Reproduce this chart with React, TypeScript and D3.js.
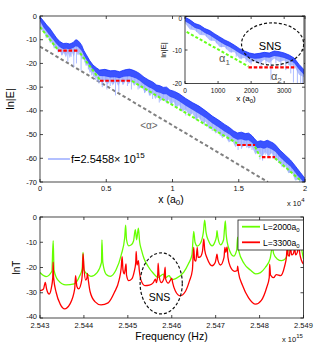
import React from "react";
import * as d3 from "d3";

const FONT = "'Liberation Sans', Arial, Helvetica, sans-serif";

// ---- top panel: |E| along the chain ----
const mainXTicks = [0, 5000, 10000, 15000, 20000];
const mainXTickLabels = ["0", "0.5", "1", "1.5", "2"];
const mainYTicks = [0, -10, -20, -30, -40, -50, -60, -70];

// [x, upper edge, lower edge] of the dense blue signal
const mainBand = [
  [0, -0.3, -2.2], [250, -2.0, -4.6], [500, -3.8, -6.5], [750, -5.3, -8.3], [1000, -7.3, -10.0],
  [1250, -9.3, -11.8], [1500, -10.8, -13.2], [1750, -11.6, -13.9], [2000, -11.5, -13.8],
  [2250, -11.8, -14.0], [2500, -11.2, -13.5], [2700, -10.0, -12.8], [2850, -10.3, -13.0],
  [3000, -11.2, -13.8], [3150, -12.4, -14.8], [3300, -14.5, -16.6], [3500, -16.4, -18.5],
  [3750, -18.8, -20.8], [4000, -20.7, -22.6], [4250, -21.8, -24.0], [4500, -22.8, -25.3],
  [4900, -22.5, -25.4], [5300, -23.1, -25.9], [5650, -23.0, -25.8], [6000, -23.5, -26.2],
  [6300, -22.9, -25.6], [6500, -22.6, -25.5], [6750, -22.4, -25.4], [7000, -22.8, -25.8],
  [7250, -23.4, -26.4], [7500, -24.2, -27.2], [7850, -25.8, -28.8], [8200, -27.0, -30.0],
  [8500, -27.8, -30.8], [8800, -29.1, -32.0], [9050, -29.4, -32.4], [9300, -30.1, -33.0],
  [9550, -30.0, -33.0], [9800, -31.2, -34.0], [10150, -31.8, -34.8], [10500, -32.8, -36.0],
  [11000, -34.8, -37.8], [11500, -36.5, -39.5], [12000, -38.0, -41.2], [12500, -40.0, -43.0],
  [13000, -42.2, -45.2], [13500, -44.0, -47.0], [13900, -45.6, -48.6], [14300, -47.0, -50.0],
  [14600, -48.4, -51.3], [14900, -49.3, -52.2], [15200, -49.0, -52.0], [15500, -49.6, -52.5],
  [15750, -49.4, -52.4], [16000, -50.5, -53.5], [16200, -51.8, -54.6], [16400, -53.0, -55.8],
  [16650, -52.6, -55.6], [16900, -53.0, -56.0], [17150, -52.4, -55.5], [17400, -53.0, -56.0],
  [17600, -53.6, -56.6], [17800, -54.5, -57.5], [18100, -56.5, -59.5], [18500, -58.6, -61.6],
  [18900, -60.7, -63.5], [19150, -62.4, -65.2], [19400, -64.2, -67.0], [19650, -66.0, -68.6],
  [19900, -67.8, -70.0], [20000, -68.5, -70.0],
];

// lower edge of the lighter, fuzzy part under the dense signal
const mainHaze = [
  [0, -3.5], [150, -6.5], [300, -6.5], [450, -9.5], [600, -8.8], [750, -11.5], [900, -10.8],
  [1050, -13.8], [1200, -13.0], [1350, -15.5], [1500, -14.8], [1650, -16.8], [1800, -15.5],
  [1950, -17.5], [2100, -15.3], [2250, -17.8], [2400, -15.2], [2550, -17.2], [2700, -14.3],
  [2850, -16.5], [3000, -15.3], [3150, -18.3], [3300, -18.0], [3450, -21.0], [3600, -20.8],
  [3750, -24.0], [3900, -23.3], [4050, -26.0], [4200, -25.2], [4350, -27.8], [4500, -26.8],
  [4700, -28.8], [4900, -27.0], [5100, -29.0], [5300, -27.4], [5500, -29.3], [5700, -27.3],
  [5900, -29.5], [6100, -27.5], [6300, -29.0], [6500, -27.0], [6700, -28.8], [6900, -27.2],
  [7100, -29.5], [7300, -28.1], [7500, -30.7], [7700, -29.6], [7900, -32.5], [8100, -31.2],
  [8300, -33.8], [8500, -32.3], [8700, -35.0], [8900, -33.7], [9100, -36.0], [9300, -34.5],
  [9500, -36.5], [9700, -35.2], [9900, -37.7], [10100, -36.2], [10300, -38.8], [10500, -37.5],
  [10750, -40.4], [11000, -39.3], [11250, -42.2], [11500, -41.0], [11750, -43.8], [12000, -42.7],
  [12250, -45.6], [12500, -44.5], [12750, -47.6], [13000, -46.7], [13250, -49.6], [13500, -48.5],
  [13750, -51.5], [14000, -50.4], [14250, -53.3], [14500, -52.4], [14750, -55.3], [15000, -53.6],
  [15250, -55.6], [15500, -54.0], [15750, -55.9], [16000, -55.0], [16250, -58.4], [16500, -57.1],
  [16750, -59.3], [17000, -57.3], [17250, -59.2], [17500, -57.8], [17750, -60.8], [18000, -60.3],
  [18250, -63.8], [18500, -63.1], [18750, -66.3], [19000, -65.7], [19250, -69.4], [19500, -69.1],
  [19750, -70], [20000, -70],
];

// [x, lowest value] of the deep downward dips
const mainSpikes = [
  [300, -5.5], [650, -8.8], [900, -11.4], [1150, -13.6], [1400, -15.2], [1650, -16.5], [1900, -15.8],
  [2100, -19.3], [2350, -17.2], [2550, -21.5], [2750, -20.0], [2950, -16.5], [3100, -23.0],
  [3400, -19.5], [3650, -22.5], [3900, -25.0], [4200, -27.0], [4450, -28.5], [4700, -30.0],
  [4950, -28.0], [5050, -31.0], [5300, -29.5], [5550, -28.5], [5700, -33.5], [5950, -32.0],
  [6250, -29.0], [6600, -29.5], [6900, -31.0], [7150, -28.5], [7400, -31.0], [7700, -30.5],
  [7900, -32.5], [8250, -33.5], [8500, -35.0], [8750, -34.0], [9000, -36.5], [9300, -35.5],
  [9600, -37.0], [9900, -37.5], [10200, -38.5], [10600, -40.0], [11000, -42.0], [11400, -41.5],
  [11800, -44.0], [12100, -43.5], [12400, -46.0], [12750, -45.5], [13000, -48.5], [13300, -48.0],
  [13600, -50.5], [13900, -50.0], [14200, -52.5], [14500, -53.0], [14950, -56.5], [15200, -56.0],
  [15400, -54.5], [15600, -55.5], [15850, -54.5], [16000, -56.5], [16300, -57.5], [16600, -60.5],
  [16800, -61.0], [17000, -58.5], [17200, -59.0], [17400, -58.0], [17600, -60.0], [17850, -59.5],
  [18000, -62.0], [18200, -61.5], [18400, -64.0], [18600, -63.0], [18800, -66.0], [19000, -65.5],
  [19200, -68.0], [19400, -68.5], [19600, -70.0], [19800, -70.0],
];

// green slopes (alpha_1) and red plateaus (alpha_2)
const alphaSegments = [
  [[0, -4.6], [1360, -14.3]],
  [[3020, -15.6], [4530, -27.0]],
  [[6940, -27.4], [14870, -53.7]],
  [[16230, -55.1], [16600, -59.3]],
  [[17740, -60.0], [19620, -69.1]],
];
const plateaus = [
  [1360, 2870, -14.6],
  [4530, 6940, -27.3],
  [14870, 16230, -54.4],
  [16750, 17740, -59.5],
];
const averageSlope = [[0, -12.9], [17200, -70]];

// ---- inset ----
const insetXTicks = [0, 1000, 2000, 3000];
const insetYTicks = [0, -10, -20];
const insetBand = [
  [0, -0.2, -1.4], [150, -1.0, -2.3], [300, -2.1, -3.4], [450, -2.6, -3.9], [600, -3.6, -4.9],
  [750, -4.2, -5.6], [900, -5.2, -6.6], [1050, -6.1, -7.5], [1200, -7.0, -8.4], [1350, -7.7, -9.1],
  [1500, -8.6, -10.0], [1650, -9.6, -11.0], [1800, -10.3, -11.7], [1950, -10.9, -12.3],
  [2100, -11.2, -12.6], [2250, -11.0, -12.5], [2400, -10.7, -12.2], [2550, -10.9, -12.3],
  [2700, -10.3, -11.8], [2850, -10.5, -12.0], [3000, -10.9, -12.4], [3150, -11.5, -13.0],
  [3300, -12.4, -13.9], [3450, -14.3, -15.8], [3600, -15.9, -17.4],
];
const insetHaze = [
  [0, -2.0], [150, -3.9], [300, -4.1], [450, -5.5], [600, -5.6], [750, -7.2], [900, -7.3],
  [1050, -9.1], [1200, -9.1], [1350, -10.7], [1500, -10.7], [1650, -12.6], [1800, -12.4],
  [1950, -13.9], [2100, -13.3], [2250, -14.1], [2400, -12.9], [2550, -13.9], [2700, -12.5],
  [2850, -13.6], [3000, -13.1], [3150, -14.6], [3300, -14.6], [3450, -17.4], [3600, -18.1],
];
const insetSpikes = [
  [200, -3.6], [350, -4.6], [500, -5.3], [650, -6.0], [800, -7.2], [950, -8.0], [1100, -9.2],
  [1250, -9.8], [1400, -10.8], [1550, -12.0], [1700, -12.8], [1850, -13.6], [2000, -14.3],
  [2150, -13.8], [2300, -15.5], [2450, -14.2], [2600, -19.0], [2750, -14.0], [2900, -15.0],
  [3050, -16.0], [3200, -17.0], [3280, -19.7], [3400, -20], [3500, -20], [3560, -20],
];
const insetAlpha = [[50, -4.6], [1920, -14.9]];
const insetPlateau = [1920, 3350, -15.2];

// ---- bottom panel: ln T vs frequency (x 1e15 Hz) ----
const freqTicks = [2.543, 2.544, 2.545, 2.546, 2.547, 2.548, 2.549];
const lnTTicks = [0, -10, -20, -30, -40];

const lnT2000 = [
  [2.543, -22.0], [2.54314, -23.6], [2.54327, -21.5], [2.5433, -9.4], [2.54332, -21.0], [2.54341, -25.0],
  [2.54359, -26.9], [2.54378, -26.5], [2.5439, -23.5], [2.54396, -20.5], [2.54398, -14.0], [2.544, -21.0],
  [2.5441, -23.0], [2.54416, -23.5], [2.5443, -22.0], [2.5444, -18.0], [2.54441, -9.1], [2.54443, -18.0],
  [2.54451, -22.8], [2.5446, -23.5], [2.54473, -21.0], [2.54485, -15.0], [2.54493, -8.0], [2.54495, -3.2],
  [2.54497, -9.0], [2.54502, -11.4], [2.54508, -11.0], [2.54513, -9.5], [2.54517, -5.0], [2.5452, -9.0],
  [2.54524, -4.4], [2.54527, -10.0], [2.54531, -13.0], [2.54537, -16.5], [2.54546, -19.5], [2.54558, -22.3],
  [2.54569, -23.9], [2.54581, -22.6], [2.54585, -24.2], [2.54594, -23.2], [2.546, -24.8], [2.5461, -24.3],
  [2.54627, -21.9], [2.54638, -18.5], [2.54646, -15.0], [2.5465, -5.7], [2.54653, -10.0], [2.54658, -11.5],
  [2.54665, -10.5], [2.54672, -6.0], [2.54675, -1.2], [2.54678, -6.0], [2.54684, -9.5], [2.54692, -11.4],
  [2.54698, -10.0], [2.54702, -7.5], [2.54703, -5.4], [2.54705, -8.0], [2.54711, -11.0], [2.54718, -9.0],
  [2.5472, -5.0], [2.54722, -1.5], [2.54724, -7.0], [2.5473, -12.5], [2.54741, -15.5], [2.54748, -13.0],
  [2.5475, -8.0], [2.54752, -13.0], [2.54765, -18.5], [2.54779, -21.0], [2.54791, -22.5], [2.54802, -22.0],
  [2.54813, -20.0], [2.54824, -16.5], [2.54829, -12.0], [2.54832, -14.5], [2.5484, -16.6], [2.5485, -17.3],
  [2.54859, -16.5], [2.54866, -12.0], [2.54869, -8.0], [2.54873, -12.0], [2.5488, -13.0], [2.54884, -9.0],
  [2.54888, -12.5], [2.54893, -10.0], [2.54897, -14.0], [2.549, -16.6],
];

const lnT3300 = [
  [2.543, -29.2], [2.54308, -28.5], [2.54312, -25.9], [2.54315, -28.5], [2.54321, -30.5], [2.54326, -28.0],
  [2.54329, -24.0], [2.5433, -17.9], [2.54331, -24.0], [2.54337, -30.0], [2.54346, -34.5], [2.54356, -36.4],
  [2.54368, -34.5], [2.54379, -28.5], [2.54381, -23.2], [2.54384, -27.5], [2.54388, -28.5], [2.54395, -25.0],
  [2.54397, -20.0], [2.54398, -14.5], [2.544, -20.0], [2.54404, -25.0], [2.54407, -24.0], [2.54408, -22.3],
  [2.5441, -25.0], [2.54414, -29.5], [2.54425, -33.5], [2.54439, -34.8], [2.54455, -34.0], [2.54469, -30.0],
  [2.5448, -25.0], [2.54485, -20.0], [2.54487, -15.7], [2.54489, -21.0], [2.54492, -22.5], [2.54496, -18.6],
  [2.54497, -23.0], [2.54502, -25.2], [2.54509, -24.5], [2.54514, -22.0], [2.54518, -18.0], [2.54519, -13.6],
  [2.54521, -19.0], [2.54524, -17.3], [2.54526, -21.0], [2.5453, -25.0], [2.54539, -27.2], [2.54549, -27.0],
  [2.54558, -26.0], [2.54563, -24.6], [2.54565, -26.0], [2.54568, -23.0], [2.54569, -18.3], [2.54571, -23.0],
  [2.54576, -26.0], [2.54582, -24.5], [2.54585, -19.9], [2.54586, -24.5], [2.54592, -26.2], [2.54597, -25.0],
  [2.546, -24.2], [2.54602, -26.0], [2.54608, -29.2], [2.54619, -31.2], [2.54631, -29.5], [2.5464, -25.5],
  [2.54647, -21.0], [2.5465, -12.0], [2.54652, -17.0], [2.54655, -17.5], [2.54658, -12.0], [2.5466, -16.0],
  [2.54665, -15.8], [2.5467, -13.5], [2.54673, -8.7], [2.54675, -13.0], [2.54681, -16.5], [2.54692, -19.3],
  [2.54699, -18.0], [2.54702, -15.5], [2.54703, -14.7], [2.54705, -17.0], [2.54711, -19.0], [2.54719, -16.0],
  [2.54721, -12.0], [2.54723, -14.0], [2.54726, -11.8], [2.54728, -16.0], [2.54733, -19.5], [2.54743, -21.5],
  [2.54749, -21.2], [2.5475, -19.5], [2.54752, -22.0], [2.54761, -27.0], [2.54775, -32.0], [2.54791, -34.5],
  [2.54804, -33.0], [2.54816, -28.0], [2.54822, -24.0], [2.54823, -18.7], [2.54825, -23.0], [2.54832, -24.0],
  [2.54838, -22.8], [2.54848, -23.2], [2.54857, -19.5], [2.54861, -16.0], [2.54863, -12.0], [2.54865, -15.0],
  [2.54868, -15.5], [2.5487, -11.5], [2.54873, -15.0], [2.54877, -14.5], [2.5488, -12.5], [2.54882, -15.0],
  [2.54886, -14.0], [2.54889, -11.5], [2.54892, -15.0], [2.54895, -17.0], [2.549, -18.6],
];

const legendLabels = ["L=2000a", "L=3300a"];

// scales
const xM = d3.scaleLinear().domain([0, 20000]).range([40, 305]);
const yM = d3.scaleLinear().domain([-70, 0]).range([182, 16]);
const xI = d3.scaleLinear().domain([0, 3600]).range([185, 304]);
const yI = d3.scaleLinear().domain([-20, 0]).range([83.5, 16.5]);
const xB = d3.scaleLinear().domain([2.543, 2.549]).range([40, 303.5]);
const yB = d3.scaleLinear().domain([-40, 0]).range([318, 217]);

const BLUE = "#2a44ff";
const LIGHTBLUE = "#97a9ff";
const LIME = "#66ff1a";
const RED = "#ff0000";

function Frame({ xs, ys, xt, yt, tick = 3 }: any) {
  const [x0, x1] = xs.range();
  const [y0, y1] = ys.range();
  return (
    <g stroke="#1a1a1a" strokeWidth={0.8} fill="none">
      {xt.map((t: number) => (
        <g key={"x" + t}>
          <line x1={xs(t)} x2={xs(t)} y1={y0} y2={y0 - tick} />
          <line x1={xs(t)} x2={xs(t)} y1={y1} y2={y1 + tick} />
        </g>
      ))}
      {yt.map((t: number) => (
        <g key={"y" + t}>
          <line x1={x0} x2={x0 + tick} y1={ys(t)} y2={ys(t)} />
          <line x1={x1} x2={x1 - tick} y1={ys(t)} y2={ys(t)} />
        </g>
      ))}
      <rect x={x0} y={y1} width={x1 - x0} height={y0 - y1} />
    </g>
  );
}

function Signal({ band, haze, spikes, xs, ys, clip }: any) {
  const area = d3
    .area<number[]>()
    .x((d) => xs(d[0]))
    .y0((d) => ys(d[2]))
    .y1((d) => ys(d[1]));
  const lower = d3.scaleLinear().domain(band.map((d: number[]) => d[0])).range(band.map((d: number[]) => d[2]));
  const hazeArea = d3
    .area<number[]>()
    .x((d) => xs(d[0]))
    .y0((d) => ys(d[1]))
    .y1((d) => ys(lower(d[0]) + 0.3));
  const top = d3.line<number[]>().x((d) => xs(d[0])).y((d) => ys(d[1]));
  return (
    <g clipPath={`url(#${clip})`}>
      <path d={hazeArea(haze) || ""} fill={LIGHTBLUE} opacity={0.75} />
      {spikes.map((s: number[], i: number) => (
        <line key={i} x1={xs(s[0])} x2={xs(s[0])} y1={ys(lower(s[0]) + 0.5)} y2={ys(s[1])}
          stroke={LIGHTBLUE} strokeWidth={0.8} />
      ))}
      <path d={area(band) || ""} fill={BLUE} opacity={0.92} />
      <path d={top(band) || ""} fill="none" stroke="#1430ff" strokeWidth={0.8} />
    </g>
  );
}

export default function App() {
  const seg = d3.line<number[]>().x((d) => xM(d[0])).y((d) => yM(d[1]));
  const segI = d3.line<number[]>().x((d) => xI(d[0])).y((d) => yI(d[1]));
  const curve = d3.line<number[]>().x((d) => xB(d[0])).y((d) => yB(d[1])).curve(d3.curveMonotoneX);

  const [mx0, mx1] = xM.range();
  const [my0, my1] = yM.range();
  const [ix0, ix1] = xI.range();
  const [iy0, iy1] = yI.range();
  const [bx0, bx1] = xB.range();
  const [by0, by1] = yB.range();

  return (
    <svg width={332} height={355} style={{ position: "absolute", left: 0, top: 0, background: "#fff" }}
      fontFamily={FONT}>
      <defs>
        <clipPath id="clipM"><rect x={mx0} y={my1} width={mx1 - mx0} height={my0 - my1} /></clipPath>
        <clipPath id="clipI"><rect x={ix0} y={iy1} width={ix1 - ix0} height={iy0 - iy1} /></clipPath>
        <clipPath id="clipB"><rect x={bx0} y={by1} width={bx1 - bx0} height={by0 - by1} /></clipPath>
      </defs>
      <rect width={332} height={355} fill="#fff" />

      {/* ===== top panel ===== */}
      <g clipPath="url(#clipM)">
        <path d={seg(averageSlope) || ""} stroke="#808080" strokeWidth={2} strokeDasharray="3.5,2.5" fill="none" />
      </g>
      <Signal band={mainBand} haze={mainHaze} spikes={mainSpikes} xs={xM} ys={yM} clip="clipM" />
      <g clipPath="url(#clipM)">
        {alphaSegments.map((s, i) => (
          <path key={i} d={seg(s) || ""} stroke={LIME} strokeWidth={2} strokeDasharray="3,2" fill="none" />
        ))}
        {plateaus.map((p, i) => (
          <line key={i} x1={xM(p[0])} x2={xM(p[1])} y1={yM(p[2])} y2={yM(p[2])}
            stroke={RED} strokeWidth={2.2} strokeDasharray="3.5,1.8" />
        ))}
      </g>
      <Frame xs={xM} ys={yM} xt={mainXTicks} yt={mainYTicks} />
      <g fontSize={7.5} fill="#111">
        {mainXTicks.map((t, i) => (
          <text key={t} x={xM(t)} y={191} textAnchor="middle">{mainXTickLabels[i]}</text>
        ))}
        {mainYTicks.map((t) => (
          <text key={t} x={37} y={yM(t)} textAnchor="end" dominantBaseline="central">{t}</text>
        ))}
        <text x={287} y={205.5}>x 10<tspan dy={-4} fontSize={6}>4</tspan></text>
      </g>
      <text transform={`translate(14,${(my0 + my1) / 2}) rotate(-90)`} textAnchor="middle" fontSize={11}>ln|E|</text>
      <text x={171} y={202.5} textAnchor="middle" fontSize={10.5}>
        x (a<tspan dy={2.5} fontSize={8}>0</tspan><tspan dy={-2.5}>)</tspan>
      </text>
      <text x={xM(8226)} y={yM(-46)} textAnchor="middle" dominantBaseline="central" fontSize={10} fill="#666">&lt;α&gt;</text>
      <line x1={xM(600)} x2={xM(2260)} y1={yM(-60.3)} y2={yM(-60.3)} stroke="#b3c0ff" strokeWidth={2} />
      <text x={xM(2340)} y={yM(-60.3) + 4} fontSize={11}>
        f=2.5458× 10<tspan dy={-5} fontSize={8}>15</tspan>
      </text>

      {/* ===== inset ===== */}
      <rect x={ix0} y={iy1} width={ix1 - ix0} height={iy0 - iy1} fill="#fff" />
      <Signal band={insetBand} haze={insetHaze} spikes={insetSpikes} xs={xI} ys={yI} clip="clipI" />
      <g clipPath="url(#clipI)">
        <path d={segI(insetAlpha) || ""} stroke={LIME} strokeWidth={2} strokeDasharray="3,2" fill="none" />
        <line x1={xI(insetPlateau[0])} x2={xI(insetPlateau[1])} y1={yI(insetPlateau[2])} y2={yI(insetPlateau[2])}
          stroke={RED} strokeWidth={2.2} strokeDasharray="3.5,1.8" />
        <ellipse cx={xI(2650)} cy={yI(-8.2)} rx={xI(940) - xI(0)} ry={yI(0) - yI(6.3)}
          fill="none" stroke="#111" strokeWidth={1.2} strokeDasharray="3,2" />
      </g>
      <text x={xI(2576)} y={yI(-8.8)} textAnchor="middle" dominantBaseline="central" fontSize={11}>SNS</text>
      <text x={xI(1030)} y={yI(-13.6)} fontSize={11} fill="#555">α<tspan dy={3} fontSize={8}>1</tspan></text>
      <text x={xI(2600)} y={yI(-18.95)} fontSize={11} fill="#555">α<tspan dy={3} fontSize={8}>2</tspan></text>
      <Frame xs={xI} ys={yI} xt={insetXTicks} yt={insetYTicks} tick={2.5} />
      <g fontSize={6.5} fill="#111">
        {insetXTicks.map((t) => (
          <text key={t} x={xI(t)} y={93} textAnchor="middle">{t}</text>
        ))}
        {insetYTicks.map((t) => (
          <text key={t} x={182} y={yI(t) + (t === 0 ? 2 : 0)} textAnchor="end" dominantBaseline="central">{t}</text>
        ))}
      </g>
      <text transform={`translate(166,${(iy0 + iy1) / 2}) rotate(-90)`} textAnchor="middle" fontSize={8}>ln|E|</text>
      <text x={246} y={101} textAnchor="middle" fontSize={8}>
        x (a<tspan dy={2} fontSize={6}>0</tspan><tspan dy={-2}>)</tspan>
      </text>

      {/* ===== bottom panel ===== */}
      <g clipPath="url(#clipB)">
        <path d={curve(lnT2000) || ""} stroke="#66ff00" strokeWidth={1.3} fill="none" />
        <path d={curve(lnT3300) || ""} stroke={RED} strokeWidth={1.3} fill="none" />
        <ellipse cx={xB(2.54576)} cy={yB(-26.3)} rx={xB(2.54348) - xB(2.543)} ry={yB(0) - yB(12.1)}
          fill="none" stroke="#111" strokeWidth={1.2} strokeDasharray="3,2" />
      </g>
      <text x={xB(2.54572)} y={yB(-31.7)} textAnchor="middle" dominantBaseline="central" fontSize={10.5}>SNS</text>
      <Frame xs={xB} ys={yB} xt={freqTicks} yt={lnTTicks} />
      <g fontSize={7.5} fill="#111">
        {freqTicks.map((t) => (
          <text key={t} x={xB(t)} y={327.5} textAnchor="middle">{d3.format(".3f")(t)}</text>
        ))}
        {lnTTicks.map((t) => (
          <text key={t} x={37} y={yB(t) - (t === -40 ? 2 : 0)} textAnchor="end" dominantBaseline="central">{t}</text>
        ))}
        <text x={282} y={342}>x 10<tspan dy={-4} fontSize={6}>15</tspan></text>
      </g>
      <text transform={`translate(20,${(by0 + by1) / 2}) rotate(-90)`} textAnchor="middle" fontSize={10}>lnT</text>
      <text x={171.5} y={339.5} textAnchor="middle" fontSize={10.5}>Frequency (Hz)</text>

      {/* legend */}
      <g>
        <rect x={238} y={220} width={bx1 - 238} height={30} fill="#fff" stroke="#1a1a1a" strokeWidth={0.8} />
        {legendLabels.map((l, i) => (
          <g key={l}>
            <line x1={242} x2={260} y1={226.7 + i * 15.6} y2={226.7 + i * 15.6}
              stroke={i === 0 ? "#66ff00" : RED} strokeWidth={1.8} />
            <text x={263} y={230 + i * 15.6} fontSize={8.5}>
              {l}<tspan dy={2} fontSize={6}>0</tspan>
            </text>
          </g>
        ))}
      </g>
    </svg>
  );
}
